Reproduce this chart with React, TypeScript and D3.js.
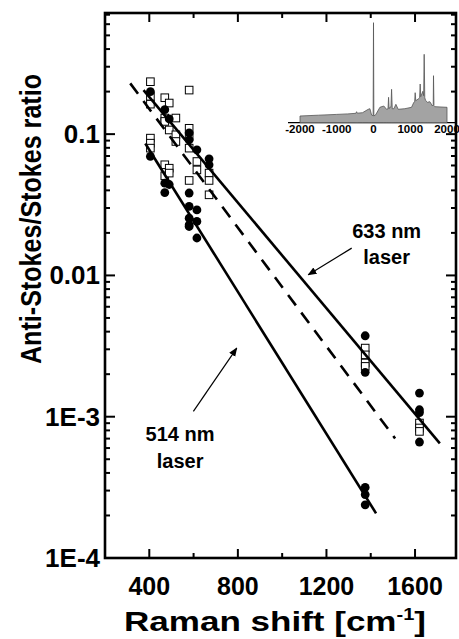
import React from 'react'
import * as d3 from 'd3'

// open squares [Raman shift, anti-Stokes/Stokes ratio]
const squares = [
  [405, 0.235], [405, 0.185], [405, 0.163], [405, 0.0937], [405, 0.0863], [405, 0.0796],
  [470, 0.181], [470, 0.13], [470, 0.123], [470, 0.0607], [470, 0.0507],
  [490, 0.166], [490, 0.107], [490, 0.0574], [490, 0.053],
  [520, 0.13], [520, 0.0989], [520, 0.0887],
  [580, 0.205], [580, 0.11], [580, 0.0962], [580, 0.0796], [580, 0.047],
  [615, 0.064], [615, 0.0558],
  [670, 0.053], [670, 0.047], [670, 0.0372],
  [1375, 0.00306], [1375, 0.00274], [1375, 0.0024], [1375, 0.00227],
  [1620, 0.000902], [1620, 0.000832], [1620, 0.000787],
]

// filled circles
const circles = [
  [405, 0.2], [405, 0.0695],
  [470, 0.149], [470, 0.045], [470, 0.0386],
  [490, 0.128], [490, 0.044],
  [580, 0.102], [580, 0.0912], [580, 0.0383], [580, 0.0308], [580, 0.0254], [580, 0.0228], [580, 0.0222],
  [615, 0.0774], [615, 0.0291], [615, 0.0241], [615, 0.0184],
  [670, 0.0669], [670, 0.0607],
  [1375, 0.00374], [1375, 0.00206], [1375, 0.000316], [1375, 0.000281], [1375, 0.000238],
  [1620, 0.00147], [1620, 0.00112], [1620, 0.00107], [1620, 0.000662],
]

// fitted lines: [x0, y0, x1, y1]
const fit633 = [374, 0.2046, 1712, 0.000647]
const fit514 = [382, 0.0859, 1424, 0.000207]
const fitDashed = [314, 0.2287, 1510, 0.000702]

const xMajor = [400, 800, 1200, 1600]
const xMinor = [600, 1000, 1400]
const yMajor = [1e-4, 1e-3, 1e-2, 1e-1]
const yLabels = ['1E-4', '1E-3', '0.01', '0.1']

// inset spectrum
const insetShift = [-2000, -2000, -1500, -1000, -700, -480, -460, -440, -300, -143, -98, -52, -10, 0, 10, 60, 174, 280, 356, 395, 410, 425, 446, 475, 492, 510, 554, 609, 672, 853, 1035, 1098, 1120, 1134, 1150, 1216, 1255, 1270, 1285, 1343, 1365, 1379, 1395, 1415, 1470, 1533, 1606, 1625, 1633, 1645, 1668, 2000, 2000]
const insetIntensity = [0, 6.7, 7.5, 8.3, 8.8, 9.4, 11, 9.5, 10, 13.4, 14, 7.7, 7, 100, 6.7, 8, 15.4, 16.7, 13.4, 14, 25.4, 14, 15.4, 16, 33.4, 14, 14, 18.4, 13.4, 14, 15.4, 20.4, 21, 30, 22, 23.7, 25, 38.7, 26, 31.4, 27, 68.4, 25, 22.4, 20.4, 21, 16.7, 18, 47, 17, 16, 15.4, 0]
const insetTicks = [-2000, -1000, 0, 1000, 2000]

// annotations in data coords
const labels633 = {x: 1472, nm: 0.0183, laser: 0.0120}
const arrow633 = [1314, 0.0156, 1118, 0.0101]
const labels514 = {x: 539, nm: 0.00067, laser: 0.00043}
const arrow514 = [599, 0.00109, 795, 0.00306]

const W = 459
const H = 639
const left = 105
const right = 456
const top = 13
const bottom = 558
const font = 'Liberation Sans, Arial, Helvetica, sans-serif'

export default function App() {
  const x = d3.scaleLinear().domain([200, 1785]).range([left, right])
  const y = d3.scaleLog().domain([1e-4, 0.72]).range([bottom, top])

  const yMinor = []
  for (let d = 1e-4; d < 1; d *= 10) {
    for (let k = 2; k <= 9; k++) {
      const v = +(k * d).toPrecision(3)
      if (v < 0.72) yMinor.push(v)
    }
  }

  const ix = d3.scaleLinear().domain([-2000, 2000]).range([300, 447])
  const iy = d3.scaleLinear().domain([0, 100]).range([122.7, 22.7])
  const area = d3.area()
    .x((d, i) => ix(insetShift[i]))
    .y0(iy(0))
    .y1((d, i) => iy(insetIntensity[i]))
  const spectrum = area(insetShift)

  const fitLine = (f, dash) => <line x1={x(f[0])} y1={y(f[1])} x2={x(f[2])} y2={y(f[3])}
    stroke='black' strokeWidth={2.6} strokeDasharray={dash} />

  const arrow = (a, id) => <line x1={x(a[0])} y1={y(a[1])} x2={x(a[2])} y2={y(a[3])}
    stroke='black' strokeWidth={1.2} markerEnd={`url(#${id})`} />

  const maj = 9
  const min = 5

  return <svg width={W} height={H} style={{position: 'absolute', left: 0, top: 0}}
    fontFamily={font} fontWeight='bold'>
    <defs>
      <marker id='head' viewBox='0 0 10 10' refX='9' refY='5' markerWidth='9' markerHeight='9'
        orient='auto' markerUnits='userSpaceOnUse'>
        <path d='M0,1 L10,5 L0,9 z' fill='black' />
      </marker>
    </defs>
    <rect width={W} height={H} fill='white' />

    {/* inset */}
    <line x1={288} x2={right} y1={iy(0)} y2={iy(0)} stroke='black' strokeWidth={1.2} />
    <path d={spectrum} fill='#a3a3a3' stroke='#555' strokeWidth={0.8} />
    {insetTicks.map(t => <text key={t} x={ix(t)} y={132.5} fontSize={11.5} textAnchor='middle'>{t}</text>)}

    {/* markers */}
    {squares.map(([sx, sy], i) => <rect key={'s' + i} x={x(sx) - 3.8} y={y(sy) - 3.8} width={7.6} height={7.6}
      fill='white' stroke='black' strokeWidth={1} />)}
    {circles.map(([cx, cy], i) => <circle key={'c' + i} cx={x(cx)} cy={y(cy)} r={4.4} fill='black' />)}

    {fitLine(fit633)}
    {fitLine(fit514)}
    {fitLine(fitDashed, '13 9')}

    {/* frame and ticks */}
    <rect x={left} y={top} width={right - left} height={bottom - top} fill='none' stroke='black' strokeWidth={2.6} />
    {xMajor.map(t => <g key={'xm' + t}>
      <line x1={x(t)} x2={x(t)} y1={bottom} y2={bottom - maj} stroke='black' strokeWidth={2} />
      <line x1={x(t)} x2={x(t)} y1={top} y2={top + maj} stroke='black' strokeWidth={2} />
      <text x={x(t)} y={595} fontSize={25} textAnchor='middle'>{t}</text>
    </g>)}
    {xMinor.map(t => <g key={'xn' + t}>
      <line x1={x(t)} x2={x(t)} y1={bottom} y2={bottom - min} stroke='black' strokeWidth={2} />
      <line x1={x(t)} x2={x(t)} y1={top} y2={top + min} stroke='black' strokeWidth={2} />
    </g>)}
    {yMajor.map((t, i) => <g key={'ym' + t}>
      <line x1={left} x2={left + maj + 1} y1={y(t)} y2={y(t)} stroke='black' strokeWidth={2} />
      <line x1={right} x2={right - maj - 1} y1={y(t)} y2={y(t)} stroke='black' strokeWidth={2} />
      <text x={100} y={y(t) + 9} fontSize={26} textAnchor='end'>{yLabels[i]}</text>
    </g>)}
    {yMinor.map(t => <g key={'yn' + t}>
      <line x1={left} x2={left + min} y1={y(t)} y2={y(t)} stroke='black' strokeWidth={2} />
      <line x1={right} x2={right - min} y1={y(t)} y2={y(t)} stroke='black' strokeWidth={2} />
    </g>)}

    {/* annotations */}
    <text x={x(labels633.x)} y={y(labels633.nm)} fontSize={20} textAnchor='middle'>633 nm</text>
    <text x={x(labels633.x)} y={y(labels633.laser)} fontSize={20} textAnchor='middle'>laser</text>
    {arrow(arrow633, 'head')}
    <text x={x(labels514.x)} y={y(labels514.nm)} fontSize={20} textAnchor='middle'>514 nm</text>
    <text x={x(labels514.x)} y={y(labels514.laser)} fontSize={20} textAnchor='middle'>laser</text>
    {arrow(arrow514, 'head')}

    {/* titles */}
    <text x={275} y={631} fontSize={28} textAnchor='middle' textLength={302} lengthAdjust='spacingAndGlyphs'>
      Raman shift [cm<tspan dy={-11} fontSize={16}>-1</tspan><tspan dy={11}>]</tspan>
    </text>
    <text transform='translate(41,219) rotate(-90)' fontSize={30} textAnchor='middle'
      textLength={290} lengthAdjust='spacingAndGlyphs'>Anti-Stokes/Stokes ratio</text>
  </svg>
}
